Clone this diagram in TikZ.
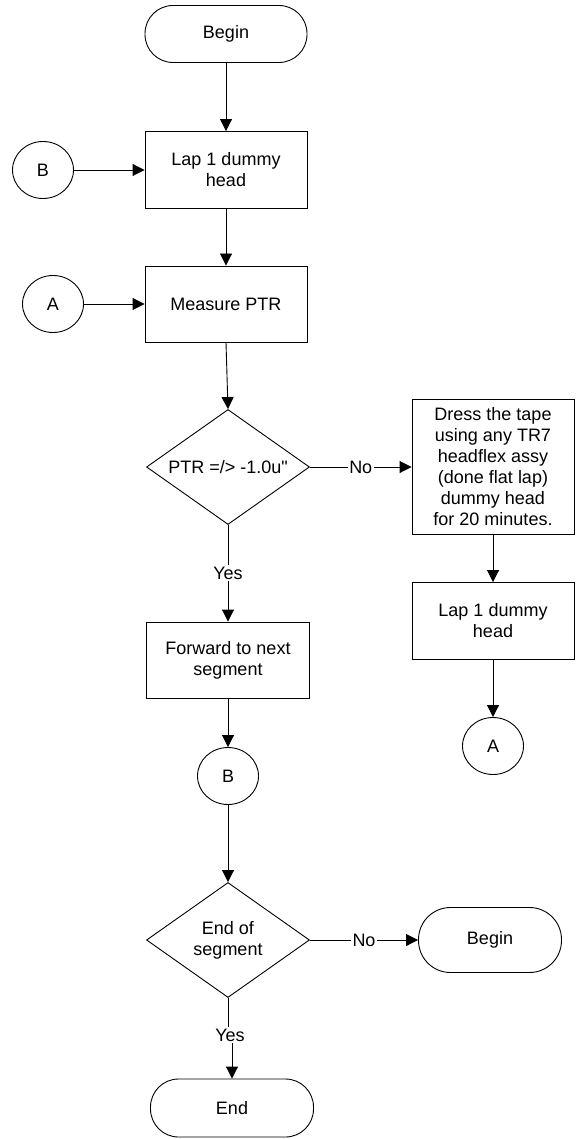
\documentclass[tikz,border=0pt]{standalone}
\usepackage{fontspec}
\setmainfont{Liberation Sans}[Ligatures=TeXOff]
\usetikzlibrary{arrows.meta,shapes.geometric}
\begin{document}
\begin{tikzpicture}[x=1pt,y=-1pt,
 every node/.style={font=\fontsize{18}{21}\selectfont},
 base/.style={draw, line width=0.9pt, inner sep=0pt, align=center},
 term/.style={base, rectangle, rounded corners=28pt, minimum width=162pt, minimum height=57pt},
 proc/.style={base, rectangle, minimum width=162pt, minimum height=77pt},
 conn/.style={base, ellipse, minimum width=61pt, minimum height=57pt},
 dec/.style={base, diamond, aspect=1.417, minimum width=163pt, minimum height=115pt},
 arr/.style={draw, line width=0.9pt, -{Triangle[length=12pt,width=12pt]}},
 ln/.style={draw, line width=0.9pt},
 lbl/.style={fill=white, inner sep=1.5pt}
]
\useasboundingbox (0,0) rectangle (575,1139);

\node[term] (begin) at (226,34) {Begin};
\node[proc] (lap1) at (226,170) {Lap 1 dummy\\head};
\node[conn] (b1) at (43,170) {B};
\node[proc, minimum height=76pt] (meas) at (226,304) {Measure PTR};
\node[conn] (a1) at (53,304) {A};
\node[dec] (d1) at (228,467) {PTR =/> -1.0u"};
\node[proc, minimum height=135pt] (dress) at (493,467) {Dress the tape\\using any TR7\\headflex assy\\(done flat lap)\\dummy head\\for 20 minutes.};
\node[proc] (lap2) at (493,621) {Lap 1 dummy\\head};
\node[conn] (a2) at (493,746) {A};
\node[proc, minimum width=163pt, minimum height=76pt] (fwd) at (228,660) {Forward to next\\segment};
\node[conn] (b2) at (228,776) {B};
\node[dec] (d2) at (228,940) {End of\\segment};
\node[term, minimum width=143pt, minimum height=65pt, rounded corners=32pt] (begin2) at (490,940) {Begin};
\node[term, minimum width=163pt, minimum height=58pt] (endn) at (232,1108) {End};

\draw[arr] (begin) -- (lap1);
\draw[arr] (b1) -- (lap1);
\draw[arr] (lap1) -- (meas);
\draw[arr] (a1) -- (meas);
\draw[arr] (meas.south) -- (d1.north);
\draw[arr] (d1.east) -- node[lbl] (no1) {No} (dress.west);
\draw[arr] (d1.south) -- node[lbl] (yes1) {Yes} (fwd.north);
\draw[arr] (dress) -- (lap2);
\draw[arr] (lap2) -- (a2);
\draw[arr] (fwd) -- (b2);
\draw[arr] (b2) -- (d2);
\draw[arr] (d2.east) -- node[lbl] (no2) {No} (begin2.west);
\node[inner sep=1.5pt] (yes2) at (230,1035) {Yes};
\draw[ln] (d2.south) -- (d2.south |- yes2.north);
\draw[arr] (endn.north |- yes2.south) -- (endn.north);
\end{tikzpicture}
\end{document}
